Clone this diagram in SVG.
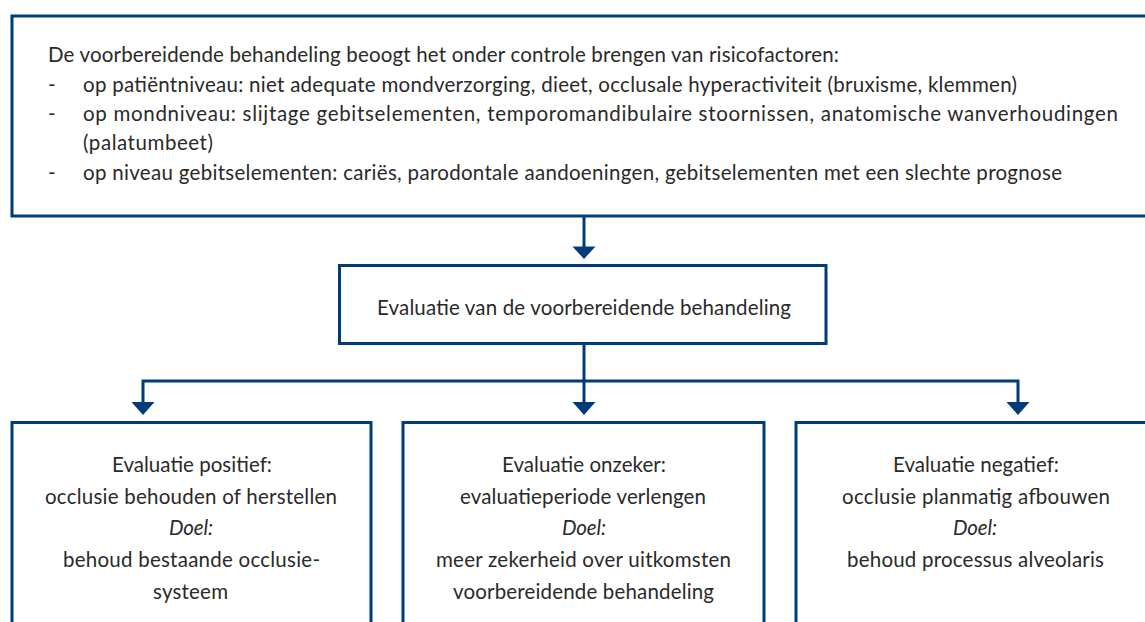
<svg xmlns="http://www.w3.org/2000/svg" width="1145" height="622" viewBox="0 0 1145 622">
<defs>
<style>
.box{fill:#fff;stroke:#003b7a;stroke-width:3}
.con{fill:none;stroke:#003b7a;stroke-width:3}
.head{fill:#003b7a}
text{font-family:Lato,"Open Sans","Liberation Sans",sans-serif;font-size:20.5px;fill:#2a2a2a}
.c{text-anchor:middle}
.i{font-style:italic}
</style>
</defs>
<rect width="1145" height="622" fill="#fff"/>
<g id="connectors">
<path class="con" d="M584 217V249"/>
<polygon class="head" points="572.5,246.5 595.5,246.5 584,259"/>
<path class="con" d="M584 344V404"/>
<path class="con" d="M143 404V381H1018V404"/>
<polygon class="head" points="131.5,402 154.5,402 143,415"/>
<polygon class="head" points="572.5,402 595.5,402 584,415"/>
<polygon class="head" points="1006.5,402 1029.5,402 1018,415"/>
</g>
<g id="risk">
<rect class="box" x="12" y="16" width="1150" height="200"/>
<text x="48" y="62" textLength="791" lengthAdjust="spacing">De voorbereidende behandeling beoogt het onder controle brengen van risicofactoren:</text>
<text x="48" y="92">-</text>
<text x="83" y="92" textLength="934" lengthAdjust="spacing">op patiëntniveau: niet adequate mondverzorging, dieet, occlusale hyperactiviteit (bruxisme, klemmen)</text>
<text x="48" y="121">-</text>
<text x="83" y="121" textLength="1035" lengthAdjust="spacing">op mondniveau: slijtage gebitselementen, temporomandibulaire stoornissen, anatomische wanverhoudingen</text>
<text x="83" y="150" textLength="130" lengthAdjust="spacing">(palatumbeet)</text>
<text x="48" y="180">-</text>
<text x="83" y="180" textLength="979" lengthAdjust="spacing">op niveau gebitselementen: cariës, parodontale aandoeningen, gebitselementen met een slechte prognose</text>
</g>
<g id="evaluatie">
<rect class="box" x="339.5" y="265.5" width="486.5" height="78"/>
<text class="c" x="584" y="315" textLength="414" lengthAdjust="spacing">Evaluatie van de voorbereidende behandeling</text>
</g>
<g id="positief">
<rect class="box" x="12" y="422.5" width="359" height="300"/>
<text class="c" x="192" y="472" textLength="160" lengthAdjust="spacing">Evaluatie positief:</text>
<text class="c" x="191" y="503.5" textLength="292" lengthAdjust="spacing">occlusie behouden of herstellen</text>
<text class="c i" x="191" y="535" textLength="44" lengthAdjust="spacing">Doel:</text>
<text class="c" x="191.5" y="567" textLength="257" lengthAdjust="spacing">behoud bestaande occlusie-</text>
<text class="c" x="190.5" y="598.5" textLength="75" lengthAdjust="spacing">systeem</text>
</g>
<g id="onzeker">
<rect class="box" x="403" y="422.5" width="361" height="300"/>
<text class="c" x="584" y="472" textLength="164" lengthAdjust="spacing">Evaluatie onzeker:</text>
<text class="c" x="583" y="503.5" textLength="246" lengthAdjust="spacing">evaluatieperiode verlengen</text>
<text class="c i" x="584" y="535" textLength="44" lengthAdjust="spacing">Doel:</text>
<text class="c" x="583.5" y="567" textLength="295" lengthAdjust="spacing">meer zekerheid over uitkomsten</text>
<text class="c" x="583.5" y="598.5" textLength="261" lengthAdjust="spacing">voorbereidende behandeling</text>
</g>
<g id="negatief">
<rect class="box" x="796" y="422.5" width="400" height="300"/>
<text class="c" x="976" y="472" textLength="166" lengthAdjust="spacing">Evaluatie negatief:</text>
<text class="c" x="976" y="503.5" textLength="268" lengthAdjust="spacing">occlusie planmatig afbouwen</text>
<text class="c i" x="975" y="535" textLength="44" lengthAdjust="spacing">Doel:</text>
<text class="c" x="975.5" y="567" textLength="257" lengthAdjust="spacing">behoud processus alveolaris</text>
</g>
</svg>
